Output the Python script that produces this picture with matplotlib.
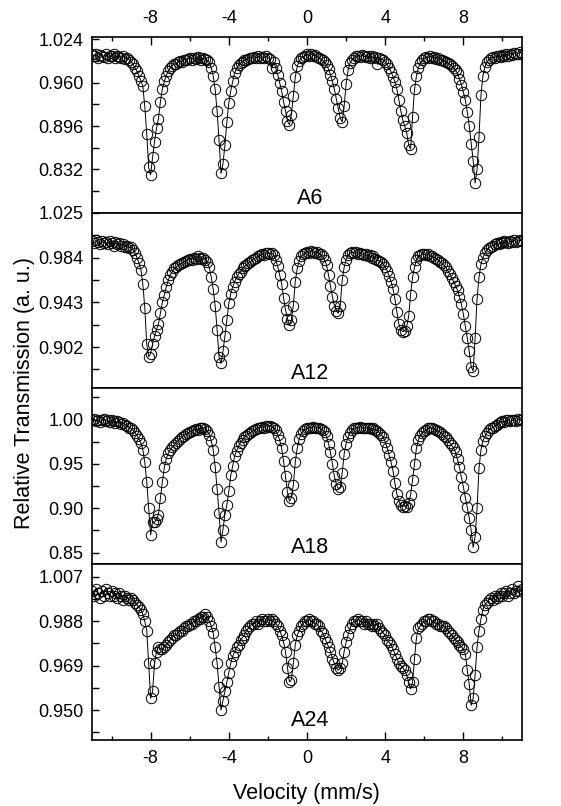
import matplotlib.pyplot as plt
import numpy as np
from matplotlib.ticker import AutoMinorLocator, MultipleLocator

plt.rcParams['font.family'] = ['Liberation Sans', 'DejaVu Sans']
plt.rcParams['axes.unicode_minus'] = False

# velocity channels: -11 .. 11 mm/s, 0.1 mm/s apart (221 channels)
velocity = np.round(np.linspace(-11.0, 11.0, 221), 1)

# relative transmission, one row per 1 mm/s
a6 = [
    1.003, 0.999, 1.002, 0.997, 1.001, 1.000, 0.998, 1.003, 0.996, 1.000,  # -11
    0.999, 1.002, 0.997, 1.000, 0.998, 0.996, 0.999, 0.995, 0.997, 0.994,  # -10
    0.991, 0.987, 0.982, 0.977, 0.970, 0.963, 0.955, 0.925, 0.885, 0.835,  # -9
    0.824, 0.850, 0.873, 0.893, 0.907, 0.932, 0.951, 0.962, 0.970, 0.977,  # -8
    0.982, 0.985, 0.988, 0.987, 0.990, 0.992, 0.991, 0.994, 0.993, 0.995,  # -7
    0.996, 0.994, 0.997, 0.995, 0.998, 0.996, 0.994, 0.997, 0.995, 0.993,  # -6
    0.990, 0.982, 0.970, 0.950, 0.918, 0.875, 0.826, 0.840, 0.868, 0.902,  # -5
    0.930, 0.948, 0.962, 0.974, 0.981, 0.986, 0.989, 0.991, 0.993, 0.994,  # -4
    0.995, 0.997, 0.996, 0.998, 0.997, 0.999, 0.996, 0.998, 0.997, 0.999,  # -3
    0.997, 0.995, 0.981, 0.990, 0.982, 0.972, 0.960, 0.948, 0.932, 0.918,  # -2
    0.903, 0.898, 0.913, 0.940, 0.968, 0.984, 0.992, 0.996, 0.998, 1.000,  # -1
    1.002, 0.999, 1.003, 1.000, 1.001, 0.998, 0.997, 0.995, 0.993, 0.990,  # 0
    0.986, 0.980, 0.972, 0.962, 0.950, 0.936, 0.922, 0.908, 0.902, 0.925,  # 1
    0.958, 0.978, 0.989, 0.994, 0.997, 0.999, 1.000, 0.998, 1.001, 0.999,  # 2
    0.998, 1.000, 0.997, 0.999, 0.996, 0.998, 0.987, 0.997, 0.995, 0.994,  # 3
    0.991, 0.987, 0.982, 0.976, 0.969, 0.961, 0.950, 0.935, 0.918, 0.905,  # 4
    0.896, 0.886, 0.868, 0.862, 0.910, 0.950, 0.970, 0.982, 0.989, 0.993,  # 5
    0.996, 0.998, 0.997, 0.999, 0.996, 0.998, 0.995, 0.996, 0.994, 0.993,  # 6
    0.992, 0.990, 0.989, 0.987, 0.985, 0.982, 0.978, 0.974, 0.966, 0.957,  # 7
    0.946, 0.934, 0.917, 0.896, 0.870, 0.845, 0.812, 0.832, 0.880, 0.942,  # 8
    0.970, 0.983, 0.990, 0.994, 0.996, 0.998, 0.997, 0.999, 1.000, 0.998,  # 9
    1.001, 0.999, 1.002, 1.000, 1.003, 1.001, 1.004, 1.002, 1.003, 1.005, 1.003,  # 10
]

a12 = [
    0.999, 0.997, 1.000, 0.998, 0.996, 0.999, 0.997, 0.998, 0.996, 0.999,
    0.997, 0.995, 0.998, 0.996, 0.997, 0.995, 0.996, 0.994, 0.995, 0.993,
    0.994, 0.991, 0.988, 0.984, 0.979, 0.973, 0.960, 0.938, 0.905, 0.893,
    0.896, 0.905, 0.912, 0.918, 0.923, 0.933, 0.943, 0.950, 0.957, 0.963,
    0.968, 0.971, 0.974, 0.975, 0.977, 0.978, 0.979, 0.980, 0.981, 0.982,
    0.983, 0.982, 0.984, 0.983, 0.985, 0.984, 0.983, 0.984, 0.982, 0.980,
    0.975, 0.966, 0.955, 0.940, 0.918, 0.893, 0.887, 0.898, 0.912, 0.927,
    0.942, 0.951, 0.957, 0.962, 0.966, 0.969, 0.971, 0.974, 0.976, 0.977,
    0.979, 0.980, 0.982, 0.983, 0.984, 0.985, 0.986, 0.987, 0.986, 0.988,
    0.988, 0.987, 0.988, 0.986, 0.982, 0.976, 0.968, 0.960, 0.947, 0.936,
    0.928, 0.922, 0.927, 0.940, 0.962, 0.974, 0.981, 0.985, 0.987, 0.988,
    0.989, 0.988, 0.990, 0.989, 0.988, 0.989, 0.987, 0.987, 0.985, 0.982,
    0.977, 0.968, 0.958, 0.948, 0.940, 0.935, 0.933, 0.940, 0.963, 0.975,
    0.982, 0.986, 0.988, 0.989, 0.988, 0.989, 0.987, 0.988, 0.987, 0.986,
    0.987, 0.985, 0.986, 0.984, 0.985, 0.983, 0.982, 0.981, 0.980, 0.978,
    0.975, 0.972, 0.967, 0.962, 0.955, 0.946, 0.934, 0.923, 0.918, 0.916,
    0.917, 0.921, 0.930, 0.950, 0.966, 0.975, 0.982, 0.985, 0.986, 0.987,
    0.987, 0.986, 0.987, 0.985, 0.985, 0.984, 0.983, 0.982, 0.980, 0.979,
    0.977, 0.975, 0.972, 0.969, 0.965, 0.962, 0.958, 0.954, 0.948, 0.941,
    0.932, 0.921, 0.910, 0.898, 0.884, 0.880, 0.910, 0.946, 0.966, 0.978,
    0.984, 0.988, 0.991, 0.993, 0.994, 0.995, 0.996, 0.997, 0.996, 0.998,
    0.997, 0.999, 0.998, 0.997, 0.999, 0.998, 1.000, 0.998, 0.999, 1.000, 0.999,
]

a18 = [
    0.999, 1.001, 0.998, 1.000, 0.997, 0.999, 1.001, 0.998, 0.999, 0.997,
    0.999, 0.998, 0.996, 0.998, 0.997, 0.995, 0.996, 0.994, 0.993, 0.991,
    0.990, 0.988, 0.985, 0.982, 0.978, 0.974, 0.966, 0.952, 0.930, 0.900,
    0.870, 0.885, 0.884, 0.888, 0.893, 0.912, 0.930, 0.946, 0.956, 0.962,
    0.966, 0.969, 0.971, 0.974, 0.976, 0.978, 0.980, 0.982, 0.984, 0.985,
    0.986, 0.987, 0.988, 0.989, 0.988, 0.990, 0.991, 0.990, 0.989, 0.987,
    0.983, 0.976, 0.966, 0.947, 0.922, 0.895, 0.862, 0.876, 0.893, 0.904,
    0.919, 0.937, 0.948, 0.959, 0.965, 0.970, 0.974, 0.977, 0.980, 0.982,
    0.984, 0.985, 0.987, 0.988, 0.989, 0.990, 0.991, 0.992, 0.991, 0.993,
    0.992, 0.993, 0.992, 0.991, 0.988, 0.983, 0.977, 0.968, 0.953, 0.936,
    0.918, 0.908, 0.912, 0.926, 0.952, 0.968, 0.978, 0.984, 0.987, 0.989,
    0.990, 0.991, 0.990, 0.992, 0.991, 0.990, 0.991, 0.989, 0.988, 0.986,
    0.981, 0.973, 0.963, 0.950, 0.936, 0.927, 0.922, 0.924, 0.940, 0.961,
    0.973, 0.980, 0.985, 0.988, 0.990, 0.991, 0.990, 0.992, 0.991, 0.990,
    0.991, 0.990, 0.991, 0.989, 0.990, 0.988, 0.987, 0.985, 0.983, 0.980,
    0.975, 0.968, 0.960, 0.952, 0.942, 0.928, 0.916, 0.908, 0.904, 0.902,
    0.903, 0.902, 0.906, 0.915, 0.932, 0.950, 0.968, 0.977, 0.982, 0.985,
    0.987, 0.988, 0.990, 0.991, 0.990, 0.989, 0.988, 0.987, 0.986, 0.984,
    0.982, 0.980, 0.977, 0.974, 0.971, 0.968, 0.963, 0.955, 0.946, 0.935,
    0.924, 0.912, 0.901, 0.889, 0.875, 0.856, 0.868, 0.900, 0.945, 0.966,
    0.976, 0.981, 0.985, 0.988, 0.990, 0.991, 0.993, 0.994, 0.996, 0.997,
    0.998, 0.997, 0.999, 1.000, 0.998, 0.999, 1.000, 0.998, 1.001, 0.999, 1.000,
]

a24 = [
    1.001, 0.999, 1.002, 1.000, 0.998, 1.001, 0.999, 1.002, 1.000, 0.999,
    1.001, 0.999, 1.000, 0.998, 1.000, 0.999, 0.997, 0.999, 0.998, 0.997,
    0.998, 0.997, 0.996, 0.995, 0.994, 0.993, 0.991, 0.988, 0.984, 0.970,
    0.955, 0.958, 0.970, 0.975, 0.977, 0.976, 0.976, 0.977, 0.978, 0.979,
    0.980, 0.981, 0.982, 0.982, 0.983, 0.984, 0.984, 0.985, 0.986, 0.986,
    0.987, 0.987, 0.988, 0.988, 0.989, 0.989, 0.990, 0.990, 0.991, 0.990,
    0.988, 0.986, 0.983, 0.977, 0.970, 0.960, 0.950, 0.954, 0.958, 0.962,
    0.966, 0.970, 0.973, 0.975, 0.977, 0.978, 0.980, 0.981, 0.982, 0.984,
    0.985, 0.986, 0.987, 0.987, 0.988, 0.987, 0.988, 0.989, 0.988, 0.988,
    0.989, 0.988, 0.989, 0.988, 0.987, 0.986, 0.984, 0.982, 0.979, 0.975,
    0.968, 0.962, 0.963, 0.970, 0.978, 0.982, 0.984, 0.986, 0.987, 0.988,
    0.988, 0.989, 0.988, 0.988, 0.987, 0.987, 0.986, 0.984, 0.983, 0.981,
    0.979, 0.977, 0.975, 0.972, 0.970, 0.968, 0.967, 0.968, 0.970, 0.975,
    0.979, 0.982, 0.985, 0.987, 0.988, 0.988, 0.989, 0.988, 0.988, 0.987,
    0.988, 0.987, 0.987, 0.986, 0.987, 0.986, 0.987, 0.985, 0.984, 0.983,
    0.982, 0.980, 0.979, 0.978, 0.976, 0.974, 0.972, 0.970, 0.969, 0.968,
    0.967, 0.965, 0.962, 0.959, 0.962, 0.972, 0.981, 0.985, 0.986, 0.987,
    0.988, 0.988, 0.989, 0.989, 0.988, 0.988, 0.987, 0.987, 0.986, 0.986,
    0.986, 0.985, 0.984, 0.983, 0.982, 0.981, 0.980, 0.979, 0.978, 0.977,
    0.976, 0.974, 0.967, 0.961, 0.952, 0.955, 0.965, 0.977, 0.984, 0.989,
    0.993, 0.995, 0.996, 0.997, 0.998, 0.997, 0.999, 0.998, 0.999, 1.000,
    0.999, 1.000, 1.001, 0.999, 1.000, 1.002, 1.000, 1.001, 1.003, 1.001, 1.002,
]

sample_names = ['A6', 'A12', 'A18', 'A24']
spectra = [a6, a12, a18, a24]
y_ticks = [
    [0.832, 0.896, 0.960, 1.024],
    [0.902, 0.943, 0.984, 1.025],
    [0.85, 0.90, 0.95, 1.00],
    [0.950, 0.969, 0.988, 1.007],
]
y_formats = ['{:.3f}', '{:.3f}', '{:.2f}', '{:.3f}']
y_limits = [(0.768, 1.0273), (0.864, 1.025), (0.837, 1.035), (0.9372, 1.0124)]
label_heights = [0.08, 0.088, 0.093, 0.11]


fig, axs = plt.subplots(4, 1, sharex=True, figsize=(5.61, 8.06), dpi=100,
                        gridspec_kw=dict(hspace=0))
fig.subplots_adjust(left=0.164, right=0.9305, top=0.954, bottom=0.082)

for i, ax in enumerate(axs):
    ax.plot(velocity, spectra[i], '-', color='black', lw=0.7)
    ax.plot(velocity, spectra[i], 'o', mfc='none', mec='black', ms=7.5, mew=0.7)

    ax.set_ylim(*y_limits[i])
    ax.set_yticks(y_ticks[i])
    ax.set_yticklabels([y_formats[i].format(t) for t in y_ticks[i]])
    ax.yaxis.set_minor_locator(AutoMinorLocator(2))
    ax.tick_params(axis='y', which='both', direction='in', length=5, width=1,
                   labelsize=13, pad=6, right=False)
    ax.tick_params(axis='x', which='both', bottom=False, top=False,
                   labelbottom=False, labeltop=False)

    ax.text(0.507, label_heights[i], sample_names[i], transform=ax.transAxes,
            ha='center', va='center', fontsize=15.5)
    for spine in ax.spines.values():
        spine.set_linewidth(1.2)

axs[0].set_xlim(-11, 11)
axs[0].set_xticks([-8, -4, 0, 4, 8])
axs[0].xaxis.set_minor_locator(MultipleLocator(2))

axs[0].tick_params(axis='x', which='both', top=True, labeltop=True, direction='in',
                   labelsize=13, pad=7)
axs[-1].tick_params(axis='x', which='both', bottom=True, labelbottom=True, direction='in',
                    labelsize=13, pad=7)
for ax in (axs[0], axs[-1]):
    ax.tick_params(axis='x', which='major', length=6, width=1)
    ax.tick_params(axis='x', which='minor', length=3, width=1)

fig.text(0.547, 0.016, 'Velocity (mm/s)', ha='center', va='center', fontsize=15.5)
fig.text(0.043, 0.512, 'Relative Transmission (a. u.)', rotation=90,
         ha='center', va='center', fontsize=15.5)

plt.savefig('out.png', dpi=100)
plt.close()
